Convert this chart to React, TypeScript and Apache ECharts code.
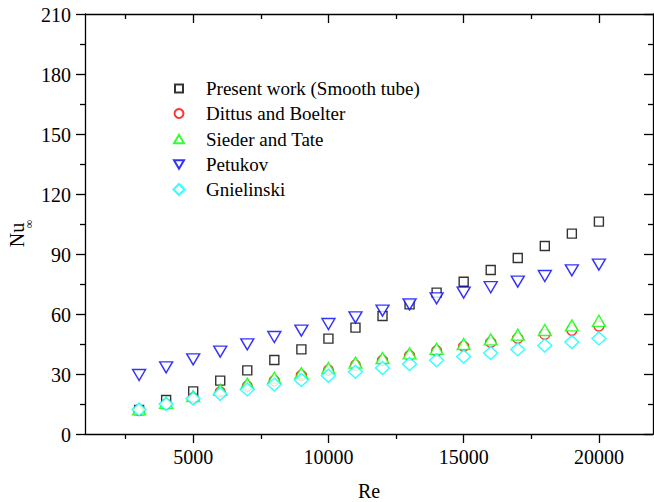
import React, { useEffect, useRef } from "react";
import * as echarts from "echarts";

const re = [3000, 4000, 5000, 6000, 7000, 8000, 9000, 10000, 11000, 12000, 13000, 14000, 15000, 16000, 17000, 18000, 19000, 20000];
const presentWork = [12, 17, 21.3, 26.7, 31.8, 37, 42.3, 47.7, 53.2, 59, 64.8, 70.7, 76.1, 82, 88, 94, 100.2, 106.2];
const dittusBoelter = [11.8, 14.9, 18.0, 21.0, 23.9, 26.6, 29.3, 31.9, 34.4, 36.8, 39.2, 41.5, 43.8, 45.8, 47.8, 49.8, 51.9, 54.0];
const siederTate = [12.3, 15.6, 18.9, 22.1, 25.2, 28.1, 30.4, 33.0, 35.7, 38.0, 40.3, 42.6, 45.0, 47.3, 49.7, 52.0, 54.3, 56.6];
const petukov = [29.5, 33.3, 37.3, 41.2, 44.8, 48.5, 51.7, 55.0, 58.3, 61.7, 64.8, 67.8, 70.7, 73.4, 76.2, 79.0, 81.8, 84.7];
const gnielinski = [12.3, 15.0, 17.7, 20.0, 22.3, 24.7, 27.0, 29.1, 31.1, 33.0, 35.0, 36.9, 38.7, 40.5, 42.3, 44.2, 46.0, 47.8];

const seriesNames = ["Present work (Smooth tube)", "Dittus and Boelter", "Sieder and Tate", "Petukov", "Gnielinski"];
const seriesValues = [presentWork, dittusBoelter, siederTate, petukov, gnielinski];

const xMajorTicks = [5000, 10000, 15000, 20000];
const xMinorTicks = [2500, 7500, 12500, 17500];
const yMajorTicks = [0, 30, 60, 90, 120, 150, 180, 210];
const xAxisTitle = "Re";
const yAxisTitle = "Nu";
const yAxisTitleSub = "∞";

const FONT = "Liberation Serif";

export default function App() {
  const ref = useRef<HTMLDivElement>(null);
  useEffect(() => {
    if (!ref.current) return;
    const chart = echarts.init(ref.current, undefined, { renderer: "svg" });
    const colors = ["#000000", "#ff0000", "#00ff00", "#0000ff", "#00ffff"];
    const symbols = ["rect", "circle", "triangle", "triangle", "diamond"];
    const legendIcons = ["rect", "circle", "triangle", "path://M0,0L20,0L10,17Z", "diamond"];
    const rotates = [0, 0, 0, 180, 0];
    const sizes: any[] = [[9, 9], [10, 10], [13, 11], [13, 11], [14, 13]];
    const legendW = [8, 9, 10, 10, 11];
    const legendH = [8, 9, 8.5, 8.5, 11];
    const legendCenters = [89, 114, 139.5, 165, 190];

    const axisLine = { show: true, lineStyle: { color: "#000", width: 1.3 } };
    const tickStyle = { color: "#000", width: 1.3 };
    const xBase = { type: "value", min: 1000, max: 22000, splitLine: { show: false }, axisLabel: { show: false } };
    const yBase = { type: "value", min: 0, max: 210, interval: 30, splitLine: { show: false }, axisLabel: { show: false } };

    const option: any = {
      animation: false,
      backgroundColor: "#fff",
      textStyle: { fontFamily: FONT },
      grid: { left: 85, top: 14, width: 568, height: 420 },
      legend: seriesNames.map((n, i) => ({
        orient: "vertical",
        left: 178 - legendW[i] / 2,
        top: legendCenters[i] - 10,
        padding: 0,
        itemWidth: legendW[i],
        itemHeight: legendH[i],
        itemGap: 0,
        selectedMode: false,
        data: [{ name: n, icon: legendIcons[i] }],
        textStyle: {
          fontFamily: FONT,
          fontSize: 19,
          color: "#000",
          padding: [0, 0, 0, 205 - (178 + legendW[i] / 2 + 5)],
        },
      })),
      xAxis: [
        {
          ...xBase,
          position: "bottom",
          axisLine,
          axisTick: { show: true, inside: false, length: 9, customValues: xMajorTicks, lineStyle: tickStyle },
        },
        {
          ...xBase,
          position: "bottom",
          axisLine: { show: false },
          axisTick: { show: true, inside: false, length: 5, customValues: xMinorTicks, lineStyle: tickStyle },
        },
        {
          ...xBase,
          position: "top",
          axisLine,
          axisTick: { show: true, inside: true, length: 9, customValues: xMajorTicks, lineStyle: tickStyle },
        },
        {
          ...xBase,
          position: "top",
          axisLine: { show: false },
          axisTick: { show: true, inside: true, length: 5, customValues: xMinorTicks, lineStyle: tickStyle },
        },
      ],
      yAxis: [
        {
          ...yBase,
          position: "left",
          axisLine,
          axisTick: { show: true, inside: false, length: 9, lineStyle: tickStyle },
          minorTick: { show: true, splitNumber: 2, length: 5, lineStyle: tickStyle },
        },
        {
          ...yBase,
          position: "right",
          axisLine,
          axisTick: { show: true, inside: true, length: 9, lineStyle: tickStyle },
          minorTick: { show: true, splitNumber: 2, length: 5, lineStyle: tickStyle },
        },
      ],
      series: seriesNames.map((n, i) => ({
        name: n,
        type: "scatter",
        xAxisIndex: 0,
        yAxisIndex: 0,
        symbol: symbols[i],
        symbolRotate: rotates[i],
        symbolSize: sizes[i],
        itemStyle: { color: "#ffffff", borderColor: colors[i], borderWidth: 1.4 },
        data: re.map((x, j) => [x, seriesValues[i][j]]),
        z: 2 + i,
      })),
    };
    chart.setOption(option);

    // Axis tick labels and titles, placed through the chart's own scales
    const labelStyle = { fontFamily: FONT, fontSize: 20, fill: "#000" };
    const px = (v: number) => chart.convertToPixel({ xAxisIndex: 0 }, v) as number;
    const py = (v: number) => chart.convertToPixel({ yAxisIndex: 0 }, v) as number;
    const xAxisY = py(0);
    const yAxisX = px(1000);
    const xMid = (px(1000) + px(22000)) / 2;
    const yMid = (py(0) + py(210)) / 2;
    const graphics: any[] = [];
    xMajorTicks.forEach((v) => {
      graphics.push({
        type: "text",
        x: px(v),
        y: xAxisY + 23,
        silent: true,
        style: { ...labelStyle, text: String(v), align: "center", verticalAlign: "middle" },
      });
    });
    yMajorTicks.forEach((v) => {
      graphics.push({
        type: "text",
        x: yAxisX - 14,
        y: py(v) + 0.5,
        silent: true,
        style: { ...labelStyle, text: String(v), align: "right", verticalAlign: "middle" },
      });
    });
    graphics.push({
      type: "text",
      x: xMid,
      y: xAxisY + 57,
      silent: true,
      style: { ...labelStyle, text: xAxisTitle, align: "center", verticalAlign: "middle" },
    });
    graphics.push({
      type: "text",
      x: yAxisX - 68.5,
      y: yMid + 11,
      rotation: Math.PI / 2,
      silent: true,
      style: { ...labelStyle, text: yAxisTitle, align: "center", verticalAlign: "middle" },
    });
    graphics.push({
      type: "text",
      x: yAxisX - 56,
      y: yMid,
      rotation: Math.PI / 2,
      silent: true,
      style: { ...labelStyle, fontSize: 12, text: yAxisTitleSub, align: "center", verticalAlign: "middle" },
    });
    chart.setOption({ graphic: graphics });

    return () => chart.dispose();
  }, []);
  return (
    <div
      ref={ref}
      style={{ position: "fixed", left: 0, top: 0, width: 654, height: 502, background: "#fff" }}
    />
  );
}
